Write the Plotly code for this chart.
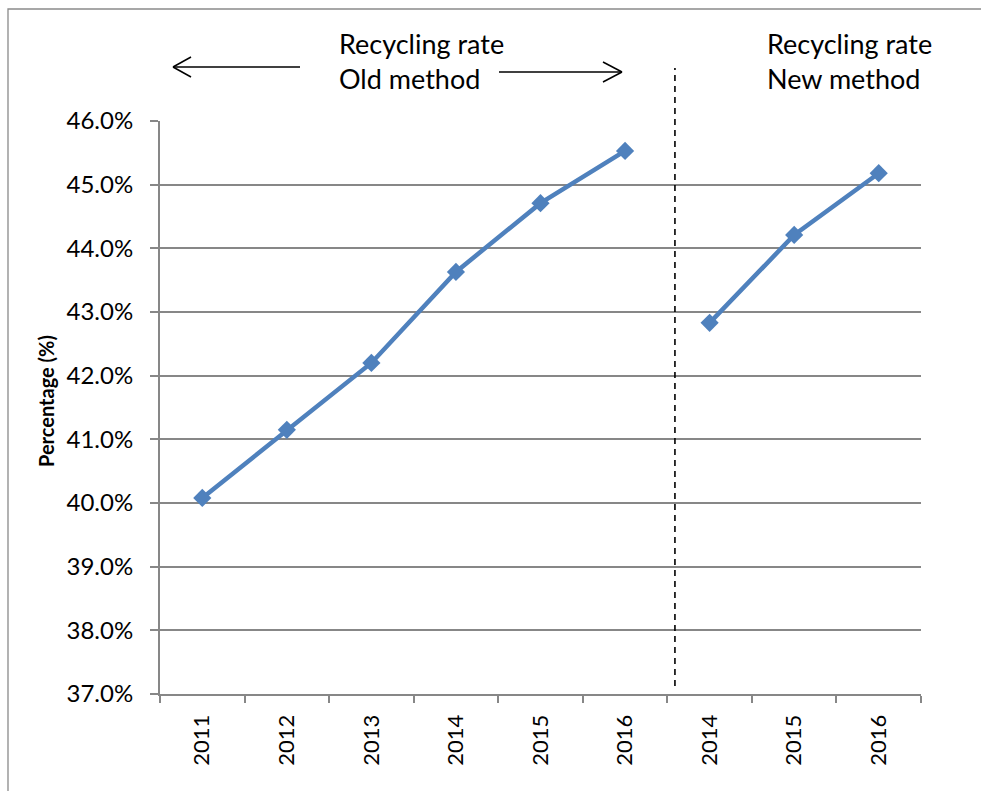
import plotly.graph_objects as go

# Recycling rate by year, old and new calculation method
old_years = ["2011", "2012", "2013", "2014", "2015", "2016"]
old_rate = [40.08, 41.15, 42.20, 43.63, 44.71, 45.53]
new_years = ["2014", "2015", "2016"]
new_rate = [42.83, 44.21, 45.18]

tick_labels = old_years + new_years
old_pos = list(range(len(old_years)))
new_pos = list(range(len(old_years), len(old_years) + len(new_years)))

W, H = 981, 791
L, R, T, B = 160, 60, 121, 97
PW, PH = W - L - R, H - T - B

FONT = "Lato"
BLUE = "#4F81BD"
GRID = "#878787"


def px(xp):
    return (xp - L) / PW


def py(yp):
    return (H - B - yp) / PH


fig = go.Figure()
for xs, ys in ((old_pos, old_rate), (new_pos, new_rate)):
    fig.add_trace(go.Scatter(
        x=xs, y=ys, mode="lines+markers",
        line=dict(color=BLUE, width=4.5),
        marker=dict(symbol="diamond", size=14, color=BLUE),
        showlegend=False, cliponaxis=False,
    ))

shapes = []
# divider between the two methods
shapes.append(dict(type="line", xref="x", yref="paper",
                   x0=len(old_years) - 0.41, x1=len(old_years) - 0.41,
                   y0=py(686), y1=py(68),
                   line=dict(color="black", width=1.6, dash="6px,5px")))


def arrow(x_tail, x_tip, y, head_len, head_half):
    d = 1 if x_tip > x_tail else -1
    segs = [((x_tail, y), (x_tip, y)),
            ((x_tip, y), (x_tip - d * head_len, y - head_half)),
            ((x_tip, y), (x_tip - d * head_len, y + head_half))]
    return [dict(type="line", xref="paper", yref="paper",
                 x0=px(a[0]), y0=py(a[1]), x1=px(b[0]), y1=py(b[1]),
                 line=dict(color="black", width=1.5)) for a, b in segs]


shapes += arrow(300, 173, 67, 18, 10)
shapes += arrow(499, 622, 72, 19, 10)

# outer chart frame
shapes.append(dict(type="rect", xref="paper", yref="paper",
                   x0=px(8), y0=py(800), x1=px(995), y1=py(9),
                   line=dict(color="#8a8a8a", width=1.3)))

annotations = [
    dict(text="Recycling rate<br>Old method", xref="paper", yref="paper",
         x=px(337), y=py(25), xanchor="left", yanchor="top", align="left",
         showarrow=False, font=dict(family=FONT, size=27, color="black")),
    dict(text="Recycling rate<br>New method", xref="paper", yref="paper",
         x=px(765), y=py(25), xanchor="left", yanchor="top", align="left",
         showarrow=False, font=dict(family=FONT, size=27, color="black")),
    dict(text="<b>Percentage (%)</b>", xref="paper", yref="paper",
         x=px(46), y=py(401), xanchor="center", yanchor="middle",
         textangle=-90, showarrow=False,
         font=dict(family=FONT, size=20, color="black")),
]

fig.update_layout(
    width=W, height=H,
    margin=dict(l=L, r=R, t=T, b=B),
    paper_bgcolor="white", plot_bgcolor="white",
    font=dict(family=FONT, size=20, color="black"),
    shapes=shapes, annotations=annotations,
)
fig.update_xaxes(
    range=[-0.5, len(tick_labels) - 0.5],
    tickmode="array", tickvals=list(range(len(tick_labels))), ticktext=tick_labels,
    tickangle=-90, ticks="", ticklabelstandoff=10,
    showgrid=False, zeroline=False,
    showline=True, linecolor=GRID, linewidth=2,
    minor=dict(tickmode="linear", tick0=-0.5, dtick=1, ticks="outside",
               ticklen=7, tickwidth=2, tickcolor=GRID, showgrid=False),
    tickfont=dict(family=FONT, size=22),
)
fig.update_yaxes(
    range=[37, 46], dtick=1, tick0=37, tickformat=".1f", ticksuffix="%",
    ticks="outside", ticklen=8, tickwidth=2, tickcolor=GRID,
    ticklabelstandoff=12,
    showgrid=True, gridcolor=GRID, gridwidth=2, zeroline=False,
    showline=True, linecolor=GRID, linewidth=2,
    tickfont=dict(family=FONT, size=24),
)

fig.write_html("out.html")
